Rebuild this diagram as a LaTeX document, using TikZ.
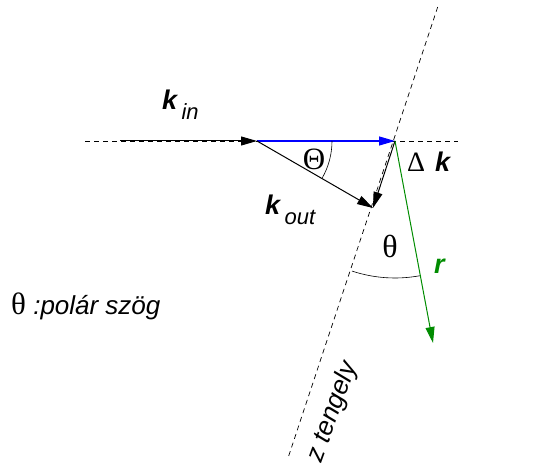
\documentclass[tikz,border=0pt]{standalone}
\usepackage{fontspec}
\setmainfont{Liberation Sans}
\newfontfamily\seriffont{Liberation Serif}
\usetikzlibrary{arrows.meta,calc}
\tikzset{
  ax/.style={dashed,dash pattern=on 5pt off 4pt,line width=0.7pt,black},
  tip/.style={-{Triangle[length=16pt,width=9pt]}},
  vec/.style={line width=1pt,tip},
  lbl/.style={inner sep=0pt,font=\fontsize{26}{28}\selectfont},
}
\newcommand{\kvec}{{\fontsize{27}{29}\selectfont\bfseries\itshape k}}
\newcommand{\subtxt}[1]{\raisebox{-10pt}{\fontsize{22}{24}\selectfont\itshape #1}}
\begin{document}
\begin{tikzpicture}[x=1pt,y=1pt]
\useasboundingbox (0,0) rectangle (547,-470);
\coordinate (L) at (85,-141);
\coordinate (R) at (458,-141);
\coordinate (S) at (120,-141);
\coordinate (A) at (257,-141);
\coordinate (O) at (395,-141);
\coordinate (T) at (373,-208);
\coordinate (Ztop) at (437.7,-7);
\coordinate (Zbot) at (288,-458);
\coordinate (Rt) at (433,-343);
% axes
\draw[ax] (L) -- (R);
\draw[ax] (Ztop) -- (Zbot);
% vectors
\draw[vec] (S) -- (A);
\draw[vec,blue,line width=1.2pt] (A) -- (O);
\draw[vec] (A) -- (T);
\draw[vec] (O) -- (T);
\draw[vec,green!55!black] (O) -- (Rt);
% arcs
\draw[line width=0.6pt] ($(A)+(75,0)$) arc[start angle=0,end angle=-30,radius=75pt];
\draw[line width=0.6pt] ($(O)+(-108.3:137)$) arc[start angle=-108.3,end angle=-79.6,radius=137pt];
% labels
\node[lbl,anchor=base west] (kin) at (162,-110) {\kvec\,\subtxt{in}};
\node[lbl,anchor=base west] (kout) at (265,-215) {\kvec\,\subtxt{out}};
\node[lbl,anchor=base west] (dk) at (407,-172) {{\seriffont\fontsize{28}{30}\selectfont Δ}\hspace{10pt}\kvec};
\node[lbl,anchor=center] (Th) at (314,-159) {\seriffont\fontsize{31}{33}\selectfont Θ};
\node[lbl,anchor=center] (th) at (390,-246) {\seriffont\fontsize{32}{34}\selectfont θ};
\node[lbl,anchor=base west,green!55!black] (rl) at (434,-274) {\fontsize{27}{29}\selectfont\bfseries\itshape r};
\node[lbl,anchor=base west] (pol) at (11,-315) {{\seriffont\fontsize{31}{33}\selectfont θ} \itshape :polár szög};
\node[lbl,anchor=center,rotate=70] (zt) at (333,-412) {\itshape z tengely};
\end{tikzpicture}
\end{document}
